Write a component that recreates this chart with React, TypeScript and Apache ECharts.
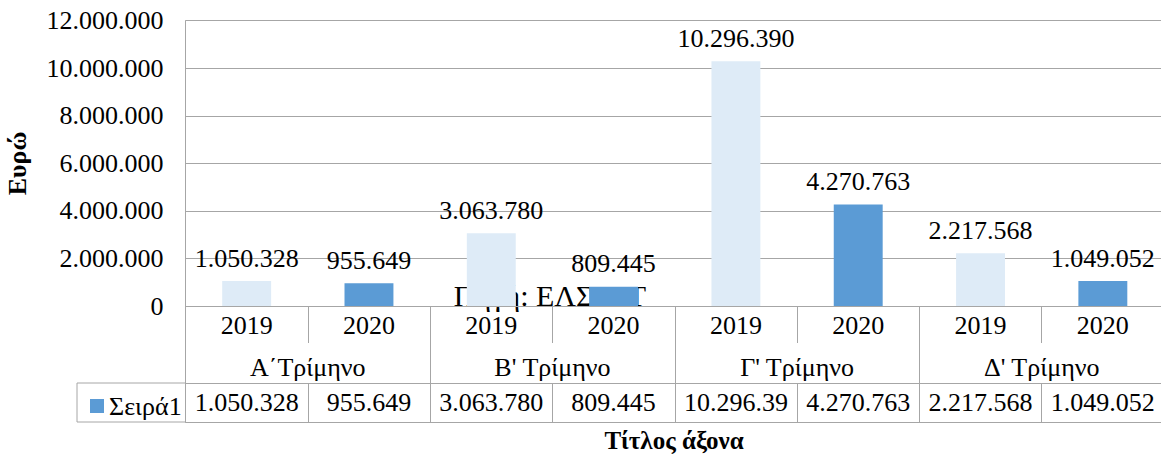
import React, { useEffect, useRef } from "react";
import * as echarts from "echarts";

const years = ["2019", "2020", "2019", "2020", "2019", "2020", "2019", "2020"];
const quarters = ["Α΄Τρίμηνο", "Β' Τρίμηνο", "Γ' Τρίμηνο", "Δ' Τρίμηνο"];
const values = [1050328, 955649, 3063780, 809445, 10296390, 4270763, 2217568, 1049052];
const tableLabels = ["1.050.328", "955.649", "3.063.780", "809.445", "10.296.39", "4.270.763", "2.217.568", "1.049.052"];
const seriesName = "Σειρά1";
const yTitle = "Ευρώ";
const xTitle = "Τίτλος άξονα";
const sourceNote = "Πηγή: ΕΛΣΤΑΤ";

const FONT = "'Liberation Serif', 'Times New Roman', serif";
const GRID = "#A6A6A6";
const LIGHT = "#DEEBF7";
const BLUE = "#5B9BD5";

const fmt = (v: number) => String(v).replace(/\B(?=(\d{3})+(?!\d))/g, ".");

export default function App() {
  const ref = useRef<HTMLDivElement>(null);
  useEffect(() => {
    document.body.style.margin = "0";
    const chart = echarts.init(ref.current!, null, { renderer: "svg" });
    const txt = { fontFamily: FONT, fontSize: 26, color: "#000" };
    chart.setOption({
      animation: false,
      backgroundColor: "#fff",
      grid: {
        left: 185.5,
        top: 20.7,
        width: 978.5,
        height: 285.3,
        containLabel: false,
        outerBoundsMode: "none",
      },
      legend: {
        show: true,
        left: 85,
        top: 388,
        itemWidth: 14,
        itemHeight: 14,
        icon: "rect",
        textStyle: { ...txt, padding: [0, 0, 0, 0] },
        data: [seriesName],
      },
      graphic: [
        {
          type: "rect",
          shape: { x: 77, y: 383, width: 108.5, height: 39 },
          style: { fill: "none", stroke: GRID, lineWidth: 1 },
          z: 0,
        },
        {
          type: "text",
          x: 550,
          y: 310,
          z: 0,
          style: {
            text: sourceNote,
            font: `30px ${FONT}`,
            fill: "#000",
            align: "center",
            verticalAlign: "bottom",
          },
        },
        {
          type: "text",
          x: 674,
          y: 440,
          style: {
            text: xTitle,
            font: `bold 25px ${FONT}`,
            fill: "#000",
            align: "center",
            verticalAlign: "middle",
          },
        },
      ],
      xAxis: [
        {
          type: "category",
          data: years,
          position: "bottom",
          axisLine: { show: true, lineStyle: { color: GRID } },
          axisTick: { show: true, interval: 0, length: 37, lineStyle: { color: GRID } },
          axisLabel: { ...txt, interval: 0, margin: 6 },
        },
        {
          type: "category",
          data: quarters,
          position: "bottom",
          offset: 0,
          axisLine: { show: false },
          axisTick: { show: true, interval: 0, length: 77, lineStyle: { color: GRID } },
          axisLabel: { ...txt, interval: 0, margin: 48 },
        },
        {
          type: "category",
          data: tableLabels,
          position: "bottom",
          offset: 77,
          axisLine: { show: true, lineStyle: { color: GRID } },
          axisTick: { show: true, interval: 0, length: 39, lineStyle: { color: GRID } },
          axisLabel: { ...txt, interval: 0, margin: 6 },
        },
        {
          type: "category",
          data: years,
          position: "bottom",
          offset: 116,
          axisLine: { show: true, lineStyle: { color: GRID } },
          axisTick: { show: false },
          axisLabel: { show: false },
        },
      ],
      yAxis: {
        type: "value",
        min: 0,
        max: 12000000,
        interval: 2000000,
        name: yTitle,
        nameLocation: "middle",
        nameRotate: 90,
        nameGap: 155,
        nameTextStyle: { fontFamily: FONT, fontSize: 26, fontWeight: "bold", color: "#000" },
        axisLine: { show: true, lineStyle: { color: GRID } },
        axisTick: { show: false },
        splitLine: { show: true, lineStyle: { color: GRID } },
        axisLabel: { ...txt, margin: 22, formatter: (v: number) => fmt(v) },
      },
      series: [
        {
          name: seriesName,
          type: "bar",
          xAxisIndex: 0,
          barWidth: "40%",
          itemStyle: { color: BLUE },
          z: 2,
          data: values.map((v, i) => ({
            value: v,
            itemStyle: { color: i % 2 === 0 ? LIGHT : BLUE },
          })),
          label: {
            show: true,
            position: "top",
            distance: 10,
            ...txt,
            formatter: (p: any) => fmt(p.value),
          },
        },
      ],
    });
    return () => chart.dispose();
  }, []);
  return <div ref={ref} style={{ width: 1161, height: 455 }} />;
}
